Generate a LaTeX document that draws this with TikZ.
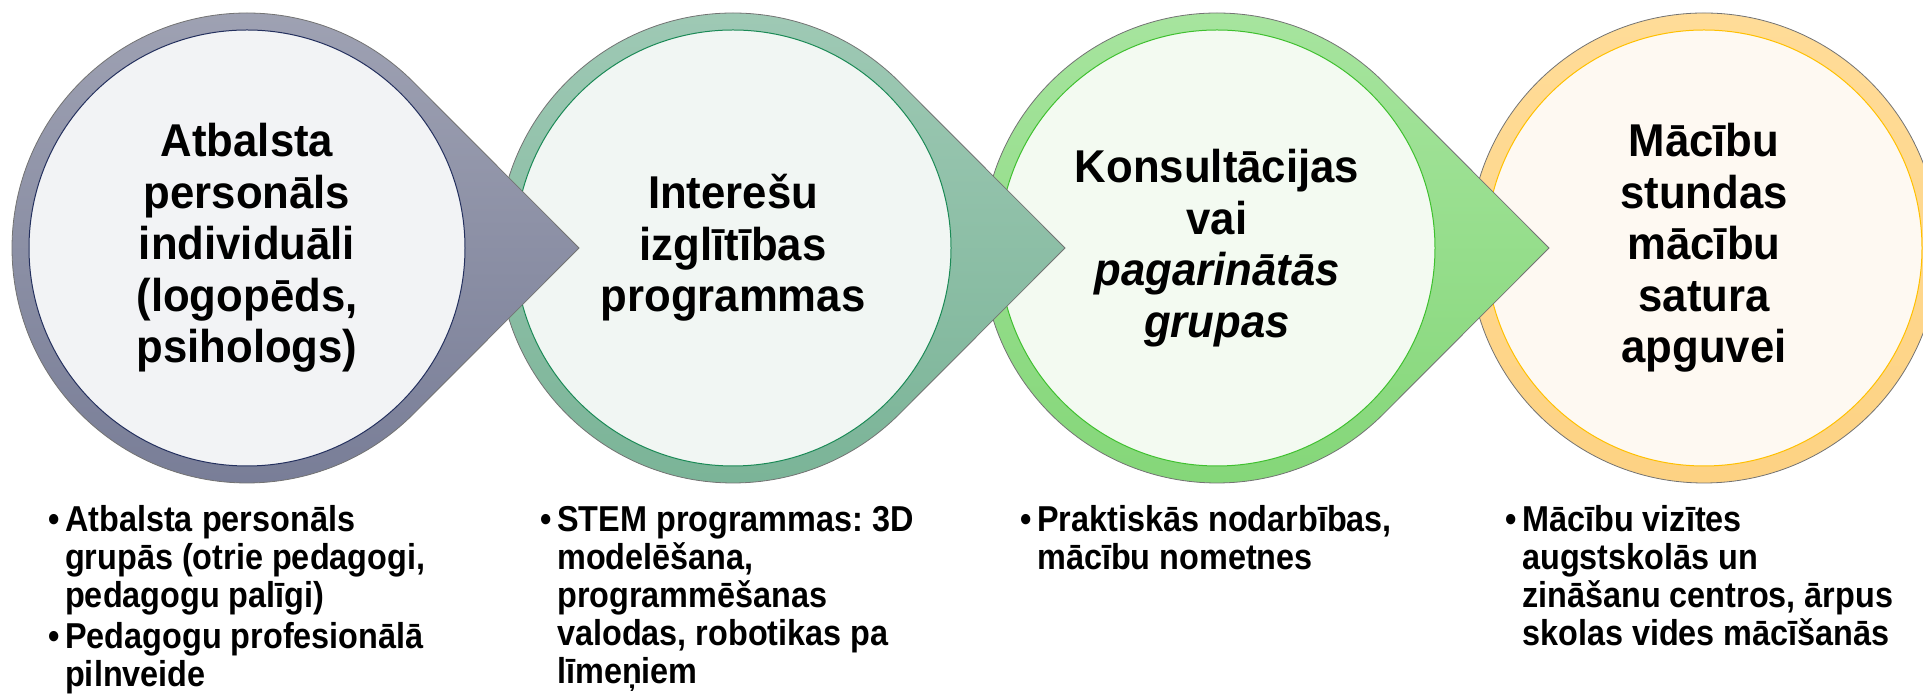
\documentclass[tikz,border=0pt]{standalone}
\usepackage{fontspec}
\setmainfont{Liberation Sans}
\newfontfamily\circfont[FakeStretch=0.95]{Liberation Sans}
\newfontfamily\listfont[FakeStretch=0.9]{Liberation Sans}
\frenchspacing
\definecolor{rAt}{HTML}{A0A3B4}\definecolor{rAb}{HTML}{777C96}
\definecolor{rBt}{HTML}{A0CAB6}\definecolor{rBb}{HTML}{79B396}
\definecolor{rCt}{HTML}{A8E5A0}\definecolor{rCb}{HTML}{83D677}
\definecolor{rDt}{HTML}{FFDC98}\definecolor{rDb}{HTML}{FDD283}
\definecolor{fA}{HTML}{F2F3F5}\definecolor{oA}{HTML}{24305E}
\definecolor{fB}{HTML}{F1F6F3}\definecolor{oB}{HTML}{1B8A56}
\definecolor{fC}{HTML}{F3FAF1}\definecolor{oC}{HTML}{3FC02F}
\definecolor{fD}{HTML}{FEF9F2}\definecolor{oD}{HTML}{FFC000}
\begin{document}
\begin{tikzpicture}[x=1pt,y=1pt,
  ringline/.style={draw=black!55, line width=0.8pt},
  innerline/.style={line width=1pt},
  circtext/.style={font=\circfont\bfseries\fontsize{46}{51.5}\selectfont, align=center, inner sep=0pt, text=black},
  listtext/.style={anchor=base west, inner sep=0pt, text=black, font=\listfont\bfseries\fontsize{36}{38}\selectfont}
]
\useasboundingbox (0,0) rectangle (1923,695);
\coordinate (c1) at (247,447);
\coordinate (c2) at (733,447);
\coordinate (c3) at (1217,447);
\coordinate (c4) at (1704,447);

% shape 4 (circle)
\path[ringline, top color=rDt, bottom color=rDb] (c4) circle[radius=235];
\path[innerline, draw=oD, fill=fD] (c4) circle[radius=218];
\node[circtext] (t4) at (c4) {Mācību\\stundas\\mācību\\satura\\apguvei};

% shape 3
\path[ringline, top color=rCt, bottom color=rCb] (c3) ++(45:235) arc[start angle=45, end angle=315, radius=235] -- ([xshift=332pt]c3) -- cycle;
\path[innerline, draw=oC, fill=fC] (c3) circle[radius=218];
\node[circtext] (t3) at (c3) {Konsultācijas\\vai\\\textit{pagarinātās}\\\textit{grupas}};

% shape 2
\path[ringline, top color=rBt, bottom color=rBb] (c2) ++(45:235) arc[start angle=45, end angle=315, radius=235] -- ([xshift=332pt]c2) -- cycle;
\path[innerline, draw=oB, fill=fB] (c2) circle[radius=218];
\node[circtext] (t2) at (c2) {Interešu\\izglītības\\programmas};

% shape 1
\path[ringline, top color=rAt, bottom color=rAb] (c1) ++(45:235) arc[start angle=45, end angle=315, radius=235] -- ([xshift=332pt]c1) -- cycle;
\path[innerline, draw=oA, fill=fA] (c1) circle[radius=218];
\node[circtext] (t1) at (c1) {Atbalsta\\personāls\\individuāli\\(logopēds,\\psihologs)};

% bullet lists
\node[listtext] (l1) at (65,163) {\vtop{\hbox{\llap{•\hspace{5pt}}Atbalsta personāls}\hbox{grupās (otrie pedagogi,}\hbox{pedagogu palīgi)}\vskip3pt\hbox{\llap{•\hspace{5pt}}Pedagogu profesionālā}\hbox{pilnveide}}};
\node[listtext] (l2) at (557,163) {\vtop{\hbox{\llap{•\hspace{5pt}}STEM programmas: 3D}\hbox{modelēšana,}\hbox{programmēšanas}\hbox{valodas, robotikas pa}\hbox{līmeņiem}}};
\node[listtext] (l3) at (1037,163) {\vtop{\hbox{\llap{•\hspace{5pt}}Praktiskās nodarbības,}\hbox{mācību nometnes}}};
\node[listtext] (l4) at (1522,163) {\vtop{\hbox{\llap{•\hspace{5pt}}Mācību vizītes}\hbox{augstskolās un}\hbox{zināšanu centros, ārpus}\hbox{skolas vides mācīšanās}}};
\end{tikzpicture}
\end{document}
